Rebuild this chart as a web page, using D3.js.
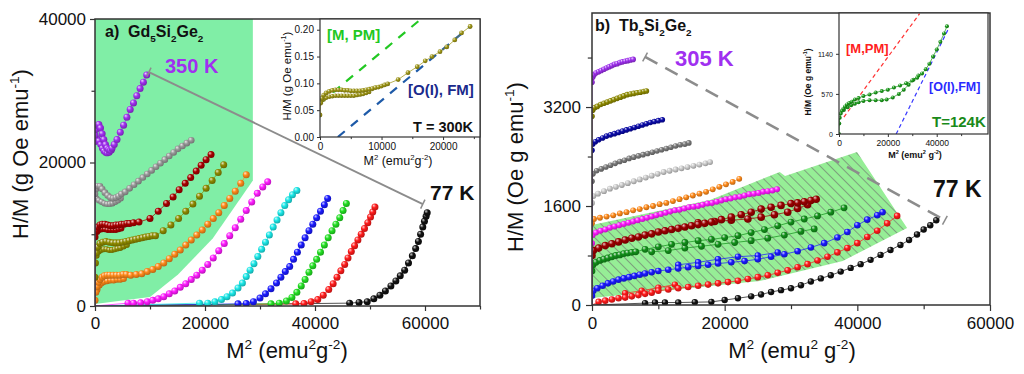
<!DOCTYPE html>
<html>
<head>
<meta charset="utf-8">
<script src="https://cdnjs.cloudflare.com/ajax/libs/d3/7.8.5/d3.min.js"></script>
<style>
body { margin: 0; background: #fff; }
svg { display: block; font-family: "Liberation Sans", Arial, sans-serif; }
</style>
</head>
<body>
<svg width="1024" height="374"></svg>
<script>
// ---------- panel a) Gd5Si2Ge2 : H/M vs M^2 (Arrott plots) ----------
var gdViolet = [[0,23800],[150,24600],[400,25200],[700,25300],[1000,24800],[1300,24000],[1600,23200],[1900,22500],[2200,22000],[2500,21800],[2800,21700],[3100,22000],[3500,22500],[4000,23200],[4600,24200],[5200,25200],[5800,26300],[6400,27400],[7000,28300],[7600,29300],[8200,30300],[8800,31200],[9400,32200]];
var gdVioletBack = [[100,22900],[400,23300],[700,23000],[1000,22500],[1300,22000],[1600,21600],[1900,21400],[2200,21300],[2600,21400],[3000,21700]];
var gdGray = [[0,15600],[200,16300],[500,16700],[900,16700],[1300,16300],[1800,15800],[2300,15400],[2800,15100],[3300,15000],[3800,15100],[4300,15300],[4800,15600],[5500,15900],[6300,16400],[7100,16900],[7900,17400],[8700,17900],[9500,18400],[10300,18900],[11100,19400],[11900,19900],[12700,20400],[13500,20900],[14300,21400],[15100,21900],[15900,22300],[16700,22700],[17500,23100]];
var gdGrayBack = [[300,15000],[700,14700],[1200,14500],[1700,14300],[2200,14200],[2700,14200],[3200,14300],[3700,14500],[4200,14700],[4700,15000]];
var gdMaroon = [[0,9600],[200,10500],[500,11000],[900,11300],[1300,11400],[1800,11400],[2300,11300],[2800,11200],[3300,11200],[3800,11300],[4300,11300],[4800,11400],[5300,11400],[5800,11500],[6300,11500],[7000,11600],[8000,11700],[10000,12200],[11500,13200],[13000,14300],[14200,15200],[15300,16200],[16400,17100],[17400,17900],[18400,18800],[19300,19600],[20200,20400],[21100,21100]];
var gdMaroonBack = [[400,10300],[800,10600],[1300,10700],[1800,10700],[2300,10600],[2800,10600],[3300,10600],[3800,10600],[4300,10700],[4800,10800]];
var gdOlive = [[0,4000],[80,6000],[250,7400],[500,8200],[900,8700],[1400,8900],[2000,9000],[2600,8900],[3200,8800],[3800,8800],[4400,8800],[5000,8900],[5600,9000],[6200,9100],[6800,9200],[7400,9300],[8000,9400],[8600,9500],[9200,9600],[9800,9700],[10400,9800],[11000,9800],[12400,10500],[13800,11300],[15200,12200],[16500,13200],[17800,14200],[19000,15300],[20200,16400],[21300,17500],[22400,18600],[23400,19700]];
var gdOliveBack = [[300,7000],[700,7600],[1100,7800],[1600,7900],[2100,7900],[2600,7800],[3100,7800],[3600,7900],[4100,8000],[4600,8100],[5200,8300],[5800,8500]];
var gdOrange = [[0,800],[150,1900],[350,2700],[600,3300],[900,3700],[1300,4000],[1700,4200],[2200,4300],[2700,4300],[3300,4300],[3900,4300],[4500,4300],[5100,4400],[5700,4400],[6500,4300],[7500,4400],[8500,4500],[9500,4800],[10500,5100],[11500,5500],[12500,6000],[13500,6600],[14500,7200],[15500,7800],[16500,8500],[17500,9200],[18500,9900],[19500,10600],[20500,11400],[21500,12200],[22500,13000],[23500,14000],[24500,15000],[25500,16000],[26500,17100],[27500,18300]];
var gdOrangeBack = [[400,2300],[800,2900],[1200,3200],[1700,3400],[2200,3500],[2800,3600],[3400,3600],[4000,3700],[4600,3700],[5200,3800]];
var gdMagenta = [[6000,400],[7000,400],[8300,450],[9500,600],[10500,800],[11500,1000],[12500,1300],[13500,1700],[14500,2100],[15500,2600],[16500,3100],[17500,3700],[18500,4300],[19500,5000],[20500,5800],[21500,6700],[22500,7700],[23500,8700],[24500,9800],[25500,10900],[26500,12100],[27500,13300],[28500,14500],[29500,15700],[30500,16600],[31400,17300]];
var gdCyan = [[19000,400],[20500,400],[21800,600],[23000,900],[24000,1300],[25000,1800],[26000,2500],[26800,3200],[27500,4100],[28200,5000],[28900,5900],[29600,6900],[30300,7900],[31000,8900],[31700,9900],[32400,11000],[33100,12000],[33800,13000],[34500,14000],[35200,14800],[35900,15500],[36700,16100]];
var gdBlue = [[26000,300],[27500,350],[28800,600],[30000,1100],[31000,1700],[32000,2400],[33000,3200],[33800,4000],[34600,4800],[35400,5500],[36100,6500],[36800,7500],[37500,8500],[38200,9500],[38900,10500],[39600,11400],[40300,12300],[41000,13200],[41700,14100],[42300,15000]];
var gdGreen = [[32000,300],[33500,400],[34800,700],[35800,1200],[36700,1900],[37500,2800],[38200,3700],[38900,4700],[39600,5600],[40300,6500],[41000,7500],[41700,8500],[42400,9500],[43100,10500],[43800,11400],[44500,12300],[45100,13300],[45700,14300]];
var gdRed = [[36500,300],[38000,350],[39300,600],[40500,900],[41500,1500],[42500,2300],[43300,3100],[44000,4000],[44700,4900],[45400,5800],[46000,6700],[46600,7600],[47200,8400],[47800,9200],[48400,10000],[49000,10800],[49600,11600],[50100,12400],[50500,13100],[50900,13800]];
var gdBlack = [[46300,400],[48000,500],[49500,600],[50700,1000],[51800,1500],[52800,2100],[53800,2800],[54700,3500],[55500,4200],[56300,5000],[57000,6000],[57700,7000],[58300,8000],[58800,9000],[59200,10000],[59600,11000],[59900,11800],[60200,12500],[60400,13000]];

// shaded (green) region and the 350 K -> 77 K guide
var gdShade = [[0,40000],[28700,40000],[28700,17500],[21400,9400],[15100,4400],[10000,1250],[0,280]];
var gdGuide = [[9800,32600],[59600,14200]];

// inset a): T = 300 K
var gdInsetUp = [[0,0.041],[100,0.063],[300,0.072],[600,0.078],[1000,0.082],[1500,0.085],[2000,0.087],[2500,0.088],[3000,0.088],[3500,0.088],[4000,0.087],[4500,0.087],[5000,0.086],[5500,0.086],[6000,0.086],[6500,0.086],[7000,0.087],[7500,0.088],[8000,0.089],[8500,0.090],[9000,0.092],[9500,0.093],[10000,0.095],[10500,0.097],[11000,0.099]];
var gdInsetDown = [[200,0.066],[600,0.070],[1000,0.073],[1500,0.075],[2000,0.076],[2500,0.077],[3000,0.077],[3500,0.077],[4000,0.077],[4500,0.077],[5000,0.077],[5500,0.077],[6000,0.078],[6500,0.079],[7000,0.080],[7500,0.082],[8000,0.084]];
var gdInsetHigh = [[12700,0.107],[14300,0.120],[15800,0.131],[17100,0.142],[18200,0.150],[19500,0.159],[20600,0.168],[21900,0.181],[23000,0.194],[24400,0.206]];
var gdFitPM = [[0,0.063],[16000,0.216]];
var gdFitFM = [[2900,0],[24600,0.208]];

// ---------- panel b) Tb5Si2Ge2 ----------
var tbViolet = [[0,3600],[100,3680],[300,3720],[600,3750],[1000,3770],[1400,3790],[1800,3810],[2200,3830],[2600,3850],[3000,3870],[3400,3890],[3800,3900],[4200,3920],[4600,3930],[5000,3940],[5400,3950],[5800,3960],[6200,3970]];
var tbOlive = [[0,3050],[100,3150],[400,3190],[800,3210],[1300,3240],[1800,3260],[2300,3280],[2800,3300],[3300,3320],[3800,3340],[4300,3360],[4800,3380],[5300,3400],[5800,3410],[6300,3420],[6800,3430],[7300,3440],[7800,3450],[8200,3460]];
var tbNavy = [[0,2500],[100,2600],[500,2640],[1000,2670],[1600,2700],[2200,2730],[2800,2750],[3400,2770],[4000,2790],[4600,2810],[5200,2830],[5800,2850],[6400,2870],[7000,2890],[7600,2910],[8200,2930],[8800,2950],[9400,2965],[10000,2980],[10600,2995]];
var tbGray = [[0,2000],[150,2120],[700,2170],[1400,2200],[2100,2230],[2800,2260],[3500,2290],[4200,2320],[4900,2340],[5600,2370],[6300,2390],[7000,2410],[7700,2430],[8400,2450],[9100,2470],[9800,2490],[10500,2510],[11200,2530],[11900,2550],[12600,2570],[13300,2590],[14000,2600],[14600,2620]];
var tbSilver = [[0,1650],[200,1760],[900,1800],[1800,1840],[2700,1880],[3600,1910],[4500,1940],[5400,1970],[6300,2000],[7200,2030],[8100,2060],[9000,2090],[9900,2120],[10800,2150],[11700,2170],[12600,2190],[13500,2210],[14400,2230],[15300,2250],[16200,2270],[17100,2290],[17800,2310]];
var tbOrange = [[0,1320],[300,1390],[1200,1410],[2200,1430],[3200,1450],[4200,1480],[5200,1500],[6200,1530],[7200,1550],[8200,1580],[9200,1600],[10200,1630],[11200,1650],[12200,1680],[13200,1710],[14200,1740],[15200,1770],[16200,1800],[17200,1830],[18200,1870],[19200,1910],[20200,1950],[21200,1990],[22200,2040]];
var tbMagenta = [[0,1000],[100,1130],[600,1170],[1300,1200],[2000,1220],[2700,1250],[3400,1270],[4100,1290],[4800,1310],[5500,1330],[6200,1350],[6900,1370],[7600,1390],[8300,1410],[9000,1430],[9700,1450],[10400,1470],[11100,1490],[11800,1510],[12500,1530],[13200,1540],[13900,1560],[14600,1580],[15300,1590],[16000,1600],[16700,1620],[17400,1640],[18100,1650],[18800,1670],[19500,1690],[20200,1710],[20900,1720],[21600,1740],[22300,1750],[23000,1770],[23700,1790],[24400,1800],[25100,1810],[25800,1830],[26500,1840],[27200,1850],[27900,1870]];
var tbMaroon = [[0,800],[200,880],[1000,920],[2000,960],[3000,990],[4000,1020],[5000,1050],[6000,1080],[7000,1100],[8000,1130],[9000,1150],[10000,1180],[11000,1200],[12000,1220],[13000,1240],[14000,1260],[15000,1280],[16000,1300],[17000,1320],[18000,1340],[19500,1380],[21000,1420],[22500,1460],[24000,1500],[25500,1550],[27000,1580],[28500,1610],[30000,1640],[31000,1650],[32000,1670],[33000,1690],[33800,1710]];
var tbMaroonBack = [[16000,1330],[18500,1350],[21000,1370],[23500,1390],[25500,1420],[27500,1460],[29500,1500],[31000,1560],[32500,1620]];
var tbGreen = [[0,550],[150,650],[600,690],[1200,720],[1800,740],[2400,760],[3000,780],[3600,800],[4200,810],[4800,830],[5400,840],[6000,850],[6600,860],[8000,900],[10000,940],[12000,980],[14000,1010],[16000,1040],[18000,1060],[20000,1090],[22000,1120],[24000,1170],[26000,1220],[28000,1280],[30000,1340],[32000,1390],[34000,1440],[36000,1500],[38000,1570]];
var tbGreenBack = [[9000,860],[11500,880],[14000,920],[16500,950],[19000,980],[21500,1010],[24000,1040],[26500,1080],[29000,1130],[31500,1190],[33500,1230]];
var tbBlue = [[0,150],[200,230],[800,270],[1600,310],[2400,350],[3200,380],[4000,410],[4800,430],[5600,450],[6400,470],[7200,490],[8000,510],[9000,530],[10000,550],[11500,570],[13000,590],[14500,610],[16000,630],[17500,650],[19000,670],[21000,690],[23000,710],[25000,740],[27000,780],[29000,820],[31000,870],[33000,930],[35000,1000],[37000,1090],[38500,1180],[40000,1290],[41500,1380],[43000,1450],[43800,1500]];
var tbBlueBack = [[13000,650],[16000,690],[19000,740],[22000,780],[25000,800],[28000,850]];
var tbRed = [[1000,50],[2000,70],[3000,90],[4000,110],[5000,120],[6000,140],[7000,160],[8000,180],[9000,200],[10000,230],[11500,250],[13000,270],[14500,290],[16000,310],[17500,330],[19000,350],[20500,370],[22000,390],[23500,420],[25000,450],[26500,480],[28000,520],[29500,560],[31000,610],[32500,660],[34000,720],[35500,780],[37000,850],[38500,920],[40000,1000],[41500,1100],[43000,1200],[44500,1320],[46000,1440]];
var tbRedBack = [[5000,190],[7500,230],[10000,280],[12500,330]];
var tbBlack = [[8000,30],[9500,40],[11000,40],[13000,40],[15500,45],[18000,50],[20000,80],[22000,110],[24000,140],[25500,170],[27000,210],[28500,240],[30000,270],[31500,320],[33000,380],[34500,430],[36000,480],[37500,540],[39000,600],[40500,660],[42000,730],[43500,810],[45000,890],[46500,970],[47800,1050],[49000,1140],[50000,1220],[51000,1290],[51900,1370]];

var tbShade = [[0,1293],[17800,1697],[28300,2150],[29100,2085],[39950,2472],[47500,1244],[37800,711],[25300,388],[0,113]];
var tbGuide = [[8000,4010],[53200,1370]];

// inset b): T = 124 K
var tbInsetUp = [[0,0],[100,150],[300,230],[700,290],[1200,330],[1800,360],[2500,390],[3300,420],[4200,440],[5200,460],[6500,490],[8000,510],[10000,540],[12500,560],[15000,590],[17500,610],[20000,630],[22500,660],[25000,690],[27500,720],[30000,760],[32000,800],[34000,860],[35500,920],[37000,1000],[38500,1100],[40000,1200],[41500,1310],[43000,1430],[44200,1530]];
var tbInsetDown = [[2000,340],[3500,380],[5000,410],[6500,430],[8000,450],[10000,470],[12500,480],[15000,480],[17500,480],[19500,490],[22000,520],[24500,570],[26500,630],[28500,700],[30500,770],[32500,830]];
var tbFitPM = [[2000,240],[33000,1710]];
var tbFitFM = [[23400,0],[45000,1510]];

// tick values
var gdXTicks = [0, 20000, 40000, 60000], gdXMinor = [10000, 30000, 50000, 70000];
var gdYTicks = [0, 20000, 40000], gdYMinor = [10000, 30000];
var gdInXTicks = [0, 10000, 20000], gdInXMinor = [5000, 15000, 25000];
var gdInYTicks = [0, 0.05, 0.10, 0.15, 0.20];
var tbXTicks = [0, 20000, 40000, 60000], tbXMinor = [10000, 30000, 50000];
var tbYTicks = [0, 1600, 3200], tbYMinor = [800, 2400, 4000];
var tbInXTicks = [0, 20000, 40000], tbInXMinor = [10000, 30000, 50000];
var tbInYTicks = [0, 570, 1140];

var svg = d3.select("svg");
var defs = svg.append("defs");
var FONT = "'Liberation Sans', Arial, sans-serif";

// shaded sphere fill, one gradient per colour
function ball(color) {
	var id = "ball" + color.replace("#", "");
	if (defs.select("#" + id).empty()) {
		var g = defs.append("radialGradient").attr("id", id)
			.attr("cx", "42%").attr("cy", "40%").attr("r", "62%")
			.attr("fx", "32%").attr("fy", "28%");
		g.append("stop").attr("offset", "0%").attr("stop-color", d3.interpolateRgb(color, "#ffffff")(0.8));
		g.append("stop").attr("offset", "45%").attr("stop-color", color);
		g.append("stop").attr("offset", "100%").attr("stop-color", d3.color(color).darker(0.9));
	}
	return "url(#" + id + ")";
}

function drawSeries(g, x, y, pts, color, r, fromOrigin) {
	var line = d3.line().x(function(d) { return x(d[0]); }).y(function(d) { return y(d[1]); });
	var lp = fromOrigin ? [[0, 0]].concat(pts) : pts;
	g.append("path").attr("d", line(lp)).attr("fill", "none")
		.attr("stroke", color).attr("stroke-width", 0.9).attr("stroke-opacity", 0.8);
	g.append("g").selectAll("circle").data(pts).enter().append("circle")
		.attr("cx", function(d) { return x(d[0]); })
		.attr("cy", function(d) { return y(d[1]); })
		.attr("r", r)
		.attr("fill", ball(color));
}

// text with sub (1) / superscript (-1) parts
function rich(parent, x, y, parts, size, opts) {
	opts = opts || {};
	var t = parent.append("text").attr("x", x).attr("y", y)
		.style("font-family", FONT)
		.style("font-size", size + "px")
		.style("font-weight", opts.bold ? "bold" : "normal")
		.attr("fill", opts.color || "#111")
		.attr("text-anchor", opts.anchor || "start");
	if (opts.rotate) t.attr("transform", "rotate(-90," + x + "," + y + ")");
	var shift = 0;
	parts.forEach(function(p) {
		var target = p[1] === 1 ? size * 0.3 : p[1] === -1 ? -size * 0.42 : 0;
		var ts = t.append("tspan").attr("dy", target - shift).text(p[0]);
		if (p[1]) ts.style("font-size", (size * 0.62) + "px");
		shift = target;
	});
	return t;
}

function axisSet(g, x, y, o) {
	var xa = g.append("g").attr("transform", "translate(0," + y.range()[0] + ")")
		.call(d3.axisBottom(x).tickValues(o.xt).tickSize(o.ts).tickPadding(o.xpad).tickFormat(o.xf));
	g.append("g").attr("transform", "translate(0," + y.range()[0] + ")")
		.call(d3.axisBottom(x).tickValues(o.xm).tickSize(o.ts * 0.7).tickFormat(""));
	var ya = g.append("g").attr("transform", "translate(" + x.range()[0] + ",0)")
		.call(d3.axisLeft(y).tickValues(o.yt).tickSize(o.ts).tickPadding(o.ypad).tickFormat(o.yf));
	if (o.ym) g.append("g").attr("transform", "translate(" + x.range()[0] + ",0)")
		.call(d3.axisLeft(y).tickValues(o.ym).tickSize(o.ts * 0.7).tickFormat(""));
	g.selectAll(".domain").remove();
	g.selectAll(".tick line").attr("stroke", "#333").attr("stroke-width", o.tw);
	xa.selectAll("text").style("font-size", o.xfs + "px").style("font-family", FONT).attr("fill", "#111");
	ya.selectAll("text").style("font-size", o.yfs + "px").style("font-family", FONT).attr("fill", "#111");
	g.append("rect")
		.attr("x", x.range()[0]).attr("y", y.range()[1])
		.attr("width", x.range()[1] - x.range()[0]).attr("height", y.range()[0] - y.range()[1])
		.attr("fill", "none").attr("stroke", "#333").attr("stroke-width", o.bw);
}

// guide line with small end bars
function tGuide(g, x, y, seg, color, width, dash) {
	var p0 = [x(seg[0][0]), y(seg[0][1])], p1 = [x(seg[1][0]), y(seg[1][1])];
	var dx = p1[0] - p0[0], dy = p1[1] - p0[1], L = Math.sqrt(dx * dx + dy * dy);
	var nx = -dy / L * 5, ny = dx / L * 5;
	g.append("line").attr("x1", p0[0]).attr("y1", p0[1]).attr("x2", p1[0]).attr("y2", p1[1])
		.attr("stroke", color).attr("stroke-width", width).attr("stroke-dasharray", dash || null);
	[p0, p1].forEach(function(p) {
		g.append("line").attr("x1", p[0] - nx).attr("y1", p[1] - ny).attr("x2", p[0] + nx).attr("y2", p[1] + ny)
			.attr("stroke", color).attr("stroke-width", 1.5);
	});
}

var fmtInt = d3.format("d");
var line = function(x, y) { return d3.line().x(function(d) { return x(d[0]); }).y(function(d) { return y(d[1]); }); };

// ================= panel a =================
var xA = d3.scaleLinear().domain([0, 70000]).range([95, 480]);
var yA = d3.scaleLinear().domain([0, 40000]).range([306, 19]);
var pa = svg.append("g");

defs.append("clipPath").attr("id", "clipA").append("rect").attr("x", 95).attr("y", 19).attr("width", 385).attr("height", 287);
var paPlot = pa.append("g").attr("clip-path", "url(#clipA)");

paPlot.append("path").attr("d", line(xA, yA)(gdShade) + "Z").attr("fill", "#80eea6");

// [points, colour, radius, line starts at origin]
var gdSeries = [
	[gdBlack, "#111111", 3.5, true], [gdRed, "#ff1a1a", 3.5, true], [gdGreen, "#22e022", 3.5, true], [gdBlue, "#1a1aff", 3.5, true],
	[gdCyan, "#1ae8e8", 3.5, true], [gdMagenta, "#ff1aff", 3.5, true], [gdOrangeBack, "#ff8a1a", 3.3, false], [gdOrange, "#ff8a1a", 3.5, true],
	[gdOliveBack, "#8e8a00", 3.0, false], [gdOlive, "#8e8a00", 3.5, true], [gdMaroonBack, "#a80000", 3.0, false], [gdMaroon, "#a80000", 3.5, true],
	[gdGrayBack, "#9a9a9a", 3.0, false], [gdGray, "#9a9a9a", 3.3, true], [gdVioletBack, "#a030f0", 3.2, false], [gdViolet, "#a030f0", 3.5, true]
];
gdSeries.forEach(function(s) {
	drawSeries(paPlot, xA, yA, s[0], s[1], s[2], s[3]);
});

tGuide(pa, xA, yA, gdGuide, "#8c8c8c", 2);

axisSet(pa, xA, yA, {xt: gdXTicks, xm: gdXMinor, yt: gdYTicks, ym: gdYMinor, ts: 5, xpad: 6, ypad: 4,
	xf: fmtInt, yf: fmtInt, xfs: 17, yfs: 17, tw: 1.2, bw: 1.5});

// inset a
var xAi = d3.scaleLinear().domain([0, 26000]).range([320, 480]);
var yAi = d3.scaleLinear().domain([0, 0.22]).range([137, 19]);
var ia = pa.append("g");
ia.append("rect").attr("x", 320).attr("y", 19).attr("width", 160).attr("height", 118).attr("fill", "#fff");
defs.append("clipPath").attr("id", "clipAi").append("rect").attr("x", 320).attr("y", 19).attr("width", 160).attr("height", 118);
var iaPlot = ia.append("g").attr("clip-path", "url(#clipAi)");
iaPlot.append("path").attr("d", line(xAi, yAi)(gdFitPM)).attr("stroke", "#22c822").attr("stroke-width", 2.2)
	.attr("stroke-dasharray", "9,8").attr("fill", "none");
iaPlot.append("path").attr("d", line(xAi, yAi)(gdFitFM)).attr("stroke", "#1e5aa8").attr("stroke-width", 2.2)
	.attr("stroke-dasharray", "9,8").attr("fill", "none");
drawSeries(iaPlot, xAi, yAi, gdInsetDown, "#9c9414", 2.2, false);
drawSeries(iaPlot, xAi, yAi, gdInsetUp.concat(gdInsetHigh), "#9c9414", 2.4, false);
axisSet(ia, xAi, yAi, {xt: gdInXTicks, xm: gdInXMinor, yt: gdInYTicks, ts: 3, xpad: 3, ypad: 3,
	xf: fmtInt, yf: d3.format(".2f"), xfs: 10, yfs: 10, tw: 1, bw: 1.2});

rich(ia, 327, 40, [["[M, PM]", 0]], 15, {bold: true, color: "#22c822"});
rich(ia, 408, 95, [["[O(I), FM]", 0]], 15, {bold: true, color: "#1a2a8c"});
rich(ia, 413, 132, [["T = 300K", 0]], 14.5, {bold: true, color: "#111"});
rich(ia, 291, 76, [["H/M (g Oe emu", 0], ["-1", -1], [")", 0]], 11.5, {rotate: true, anchor: "middle"});
rich(ia, 398, 165, [["M", 0], ["2", -1], [" (emu", 0], ["2", -1], ["g", 0], ["-2", -1], [")", 0]], 12.5, {anchor: "middle"});

rich(pa, 105, 37, [["a)\u00a0\u00a0Gd", 0], ["5", 1], ["Si", 0], ["2", 1], ["Ge", 0], ["2", 1]], 16, {bold: true});
rich(pa, 165, 73, [["350 K", 0]], 20, {bold: true, color: "#a030f0"});
rich(pa, 430, 200, [["77 K", 0]], 21, {bold: true});
rich(pa, 28, 154, [["H/M (g Oe emu", 0], ["-1", -1], [")", 0]], 22, {rotate: true, anchor: "middle"});
rich(pa, 287, 358, [["M", 0], ["2", -1], [" (emu", 0], ["2", -1], ["g", 0], ["-2", -1], [")", 0]], 22, {anchor: "middle"});

// ================= panel b =================
var xB = d3.scaleLinear().domain([0, 60000]).range([592, 990]);
var yB = d3.scaleLinear().domain([0, 4720]).range([305, 13]);
var pb = svg.append("g");
defs.append("clipPath").attr("id", "clipB").append("rect").attr("x", 592).attr("y", 13).attr("width", 398).attr("height", 292);
var pbPlot = pb.append("g").attr("clip-path", "url(#clipB)");

var hatch = defs.append("pattern").attr("id", "hatch").attr("patternUnits", "userSpaceOnUse")
	.attr("width", 7).attr("height", 7).attr("patternTransform", "rotate(-45)");
hatch.append("rect").attr("width", 7).attr("height", 7).attr("fill", "#96ee96");
hatch.append("line").attr("x1", 0).attr("y1", 0).attr("x2", 0).attr("y2", 7).attr("stroke", "#6e6e6e").attr("stroke-width", 1.2);
pbPlot.append("path").attr("d", line(xB, yB)(tbShade) + "Z").attr("fill", "url(#hatch)");

var tbSeries = [
	[tbBlack, "#111111", 3.2, true], [tbRedBack, "#ff1a1a", 3.2, false], [tbRed, "#ff1a1a", 3.3, true],
	[tbBlueBack, "#1a1aff", 3.2, false], [tbBlue, "#1a1aff", 3.3, true],
	[tbGreenBack, "#12901a", 3.4, false], [tbGreen, "#12901a", 3.4, true], [tbMaroonBack, "#9a0000", 3.8, false], [tbMaroon, "#9a0000", 3.8, true],
	[tbMagenta, "#ff1aff", 3.0, true], [tbOrange, "#ff8a1a", 2.9, true], [tbSilver, "#cccccc", 2.9, true], [tbGray, "#7a7a7a", 2.8, true],
	[tbNavy, "#0a0aa8", 2.8, true], [tbOlive, "#8e8a00", 2.8, true], [tbViolet, "#a030f0", 2.8, true]
];
tbSeries.forEach(function(s) {
	drawSeries(pbPlot, xB, yB, s[0], s[1], s[2], s[3]);
});

tGuide(pb, xB, yB, tbGuide, "#8c8c8c", 2.5, "14,9");

axisSet(pb, xB, yB, {xt: tbXTicks, xm: tbXMinor, yt: tbYTicks, ym: tbYMinor, ts: 6, xpad: 6, ypad: 5,
	xf: fmtInt, yf: fmtInt, xfs: 17, yfs: 17, tw: 1.2, bw: 1.5});

// inset b
var xBi = d3.scaleLinear().domain([0, 61000]).range([839, 988]);
var yBi = d3.scaleLinear().domain([0, 1720]).range([134, 13]);
var ib = pb.append("g");
ib.append("rect").attr("x", 839).attr("y", 13).attr("width", 149).attr("height", 121).attr("fill", "#fff");
defs.append("clipPath").attr("id", "clipBi").append("rect").attr("x", 839).attr("y", 13).attr("width", 149).attr("height", 121);
var ibPlot = ib.append("g").attr("clip-path", "url(#clipBi)");
ibPlot.append("path").attr("d", line(xBi, yBi)(tbFitPM)).attr("stroke", "#ff3030").attr("stroke-width", 1.2)
	.attr("stroke-dasharray", "4,3").attr("fill", "none");
ibPlot.append("path").attr("d", line(xBi, yBi)(tbFitFM)).attr("stroke", "#3838ff").attr("stroke-width", 1.2)
	.attr("stroke-dasharray", "4,3").attr("fill", "none");
drawSeries(ibPlot, xBi, yBi, tbInsetDown, "#1a9a1a", 2.0, false);
drawSeries(ibPlot, xBi, yBi, tbInsetUp, "#1a9a1a", 2.0, false);
axisSet(ib, xBi, yBi, {xt: tbInXTicks, xm: tbInXMinor, yt: tbInYTicks, ts: 3, xpad: 3, ypad: 3,
	xf: fmtInt, yf: fmtInt, xfs: 8.5, yfs: 7, tw: 1, bw: 1.2});

rich(ib, 846, 53, [["[M,PM]", 0]], 13, {bold: true, color: "#ff2020"});
rich(ib, 929, 91, [["[O(I),FM]", 0]], 12.5, {bold: true, color: "#2a2aff"});
rich(ib, 932, 127, [["T=124K", 0]], 15, {bold: true, color: "#1a8a1a"});
rich(ib, 811, 82, [["H/M (Oe g emu", 0], ["-1", -1], [")", 0]], 8.5, {rotate: true, anchor: "middle", bold: true});
rich(ib, 915, 158, [["M", 0], ["2", -1], [" (emu", 0], ["2", -1], [" g", 0], ["-2", -1], [")", 0]], 9, {anchor: "middle", bold: true});

rich(pb, 595, 31, [["b)\u00a0\u00a0Tb", 0], ["5", 1], ["Si", 0], ["2", 1], ["Ge", 0], ["2", 1]], 16, {bold: true});
rich(pb, 675, 66, [["305 K", 0]], 22, {bold: true, color: "#a030f0"});
rich(pb, 933, 197, [["77 K", 0]], 23, {bold: true});
rich(pb, 523, 167, [["H/M (Oe g emu", 0], ["-1", -1], [")", 0]], 22, {rotate: true, anchor: "middle"});
rich(pb, 792, 358, [["M", 0], ["2", -1], [" (emu", 0], ["2", -1], [" g", 0], ["-2", -1], [")", 0]], 22, {anchor: "middle"});
</script>
</body>
</html>
